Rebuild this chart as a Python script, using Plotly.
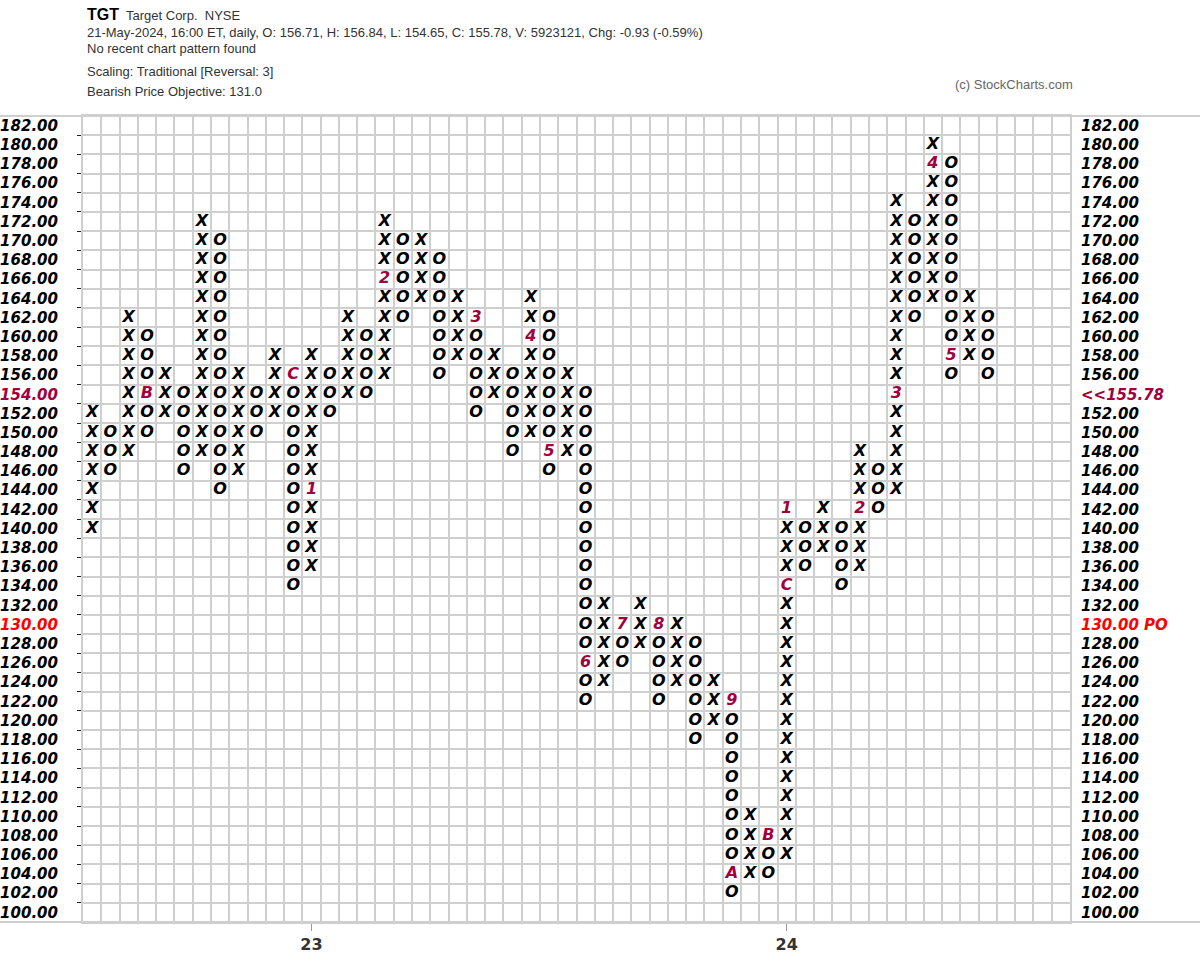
import plotly.graph_objects as go

# TGT point & figure, box 2, reversal 3 -- one entry per column
col_type = list("XOXOXOXOXOXOXOXOXOXOXOXOXOXOXOXOXOXOXOXOXOXOXOXOXO")
col_low = [140, 146, 148, 150, 152, 146, 148, 144, 146, 150,
           152, 134, 136, 152, 154, 154, 156, 162, 164, 156,
           158, 152, 154, 148, 150, 146, 148, 122, 124, 126,
           128, 122, 124, 118, 120, 102, 104, 104, 106, 136,
           138, 134, 136, 142, 144, 162, 164, 156, 158, 156]
col_high = [152, 150, 162, 160, 156, 154, 172, 170, 156, 154,
            158, 156, 158, 156, 162, 160, 172, 170, 170, 168,
            164, 162, 158, 156, 164, 162, 156, 154, 132, 130,
            132, 130, 130, 128, 124, 122, 110, 108, 142, 140,
            142, 140, 148, 146, 174, 172, 180, 178, 164, 162]

# month markers (1-9, A, B, C) that replace a box
mark_col = [3, 11, 12, 16, 21, 24, 25, 27, 29, 31, 35, 35, 37, 38, 38, 42, 44, 46, 47]
mark_price = [154, 156, 144, 166, 162, 160, 148, 126, 130, 130, 122, 104, 108, 134, 142, 142, 154, 178, 158]
mark_text = ["B", "C", "1", "2", "3", "4", "5", "6", "7", "8", "9", "A", "B", "C", "1", "2", "3", "4", "5"]

price_levels = list(range(100, 184, 2))
year_col = [12, 38]
year_text = ["23", "24"]
last_close = 155.78
last_row = 154
objective_row = 130
n_cols = 54

MONTH_RED = "#a0003c"
GRID = "#cfcfcf"
BOX_FONT = dict(family="DejaVu Sans", size=16, color="black", weight="bold", style="italic")
HEAD_FONT = "Liberation Sans Narrow, Arial Narrow, Liberation Sans, Arial"

marked = set(zip(mark_col, mark_price))
xs = {"X": ([], []), "O": ([], [])}
for c, (t, lo, hi) in enumerate(zip(col_type, col_low, col_high)):
    for p in range(lo, hi + 1, 2):
        if (c, p) not in marked:
            xs[t][0].append(c)
            xs[t][1].append(p)

fig = go.Figure()
for t in ["X", "O"]:
    fig.add_trace(go.Scatter(x=xs[t][0], y=xs[t][1], mode="text", text=[t] * len(xs[t][0]),
                             textfont=BOX_FONT, hoverinfo="skip", showlegend=False))
fig.add_trace(go.Scatter(x=mark_col, y=mark_price, mode="text", text=mark_text,
                         textfont={**BOX_FONT, "color": MONTH_RED}, hoverinfo="skip", showlegend=False))
# dummy trace so the right-hand price axis is drawn
fig.add_trace(go.Scatter(x=[None], y=[None], yaxis="y2", showlegend=False, hoverinfo="skip"))


def left_label(p):
    if p == last_row:
        return f'<span style="color:{MONTH_RED}">{p:.2f}</span>'
    if p == objective_row:
        return f'<span style="color:#ff0000">{p:.2f}</span>'
    return f"{p:.2f}"


def right_label(p):
    if p == last_row:
        return f'<span style="color:{MONTH_RED}">&lt;&lt;{last_close:.2f}</span>'
    if p == objective_row:
        return f'<span style="color:#ff0000">{p:.2f} PO</span>'
    return f"{p:.2f}"


label_font = dict(family="DejaVu Sans", size=15, color="black", weight="bold", style="italic")
yrange = [price_levels[0] - 1, price_levels[-1] + 1]

fig.update_layout(
    width=1200, height=979,
    margin=dict(l=83, r=130, t=116, b=57),
    paper_bgcolor="white", plot_bgcolor="white",
    xaxis=dict(range=[-0.5, n_cols - 0.5], tickvals=year_col, ticktext=year_text, automargin=False,
               ticks="outside", ticklen=7, tickcolor="#999999",
               tickfont=dict(family="DejaVu Sans", size=16, color="#333333", weight="bold"),
               showgrid=False, zeroline=False, showline=True, linecolor=GRID, linewidth=2, mirror=True,
               minor=dict(tickvals=[k - 0.5 for k in range(n_cols + 1)], showgrid=True,
                          gridcolor=GRID, gridwidth=2, ticks="")),
    yaxis=dict(range=yrange, tickvals=price_levels, ticktext=[left_label(p) for p in price_levels],
               ticks="", tickfont=label_font, ticklabelstandoff=20, automargin=False,
               showgrid=False, zeroline=False, showline=True, linecolor=GRID, linewidth=2, mirror=True,
               minor=dict(tickvals=[p + 1 for p in range(98, 184, 2)], showgrid=True,
                          gridcolor=GRID, gridwidth=2, ticks="outside", ticklen=4,
                          tickcolor="#222222", tickwidth=1)),
    yaxis2=dict(range=yrange, overlaying="y", side="right", tickvals=price_levels, automargin=False,
                ticktext=[right_label(p) for p in price_levels], ticks="", tickfont=label_font,
                ticklabelstandoff=10, showgrid=False, zeroline=False, showline=False),
)


def px(x, y):
    return (x - 83) / 987, (922 - y) / 806


# full-width rules at the top and bottom of the grid
for yv in [0, 1]:
    fig.add_shape(type="line", xref="paper", yref="paper", x0=-83 / 987, x1=1117 / 987, y0=yv, y1=yv,
                  line=dict(color=GRID, width=2))

header = [
    (85, 14, "<b>TGT</b>", 16, "black"),
    (124, 15, "Target Corp.  NYSE", 13, "#333333"),
    (85, 33, "21-May-2024, 16:00 ET, daily, O: 156.71, H: 156.84, L: 154.65, C: 155.78, "
             "V: 5923121, Chg: -0.93 (-0.59%)", 13, "#333333"),
    (85, 49, "No recent chart pattern found", 13, "#333333"),
    (85, 72, "Scaling: Traditional [Reversal: 3]", 13, "#333333"),
    (85, 91, "Bearish Price Objective: 131.0", 13, "#333333"),
]
for x0, y0, txt, size, color in header:
    xp, yp = px(x0, y0)
    fig.add_annotation(x=xp, y=yp, xref="paper", yref="paper", text=txt, showarrow=False,
                       xanchor="left", yanchor="middle", font=dict(family=HEAD_FONT, size=size, color=color))
xp, yp = px(1075, 85)
fig.add_annotation(x=xp, y=yp, xref="paper", yref="paper", text="(c) StockCharts.com", showarrow=False,
                   xanchor="right", yanchor="middle", font=dict(family=HEAD_FONT, size=13, color="#666666"))

fig.write_html("out.html", config={"displayModeBar": False},
               post_script="document.body.style.margin='0px';")
